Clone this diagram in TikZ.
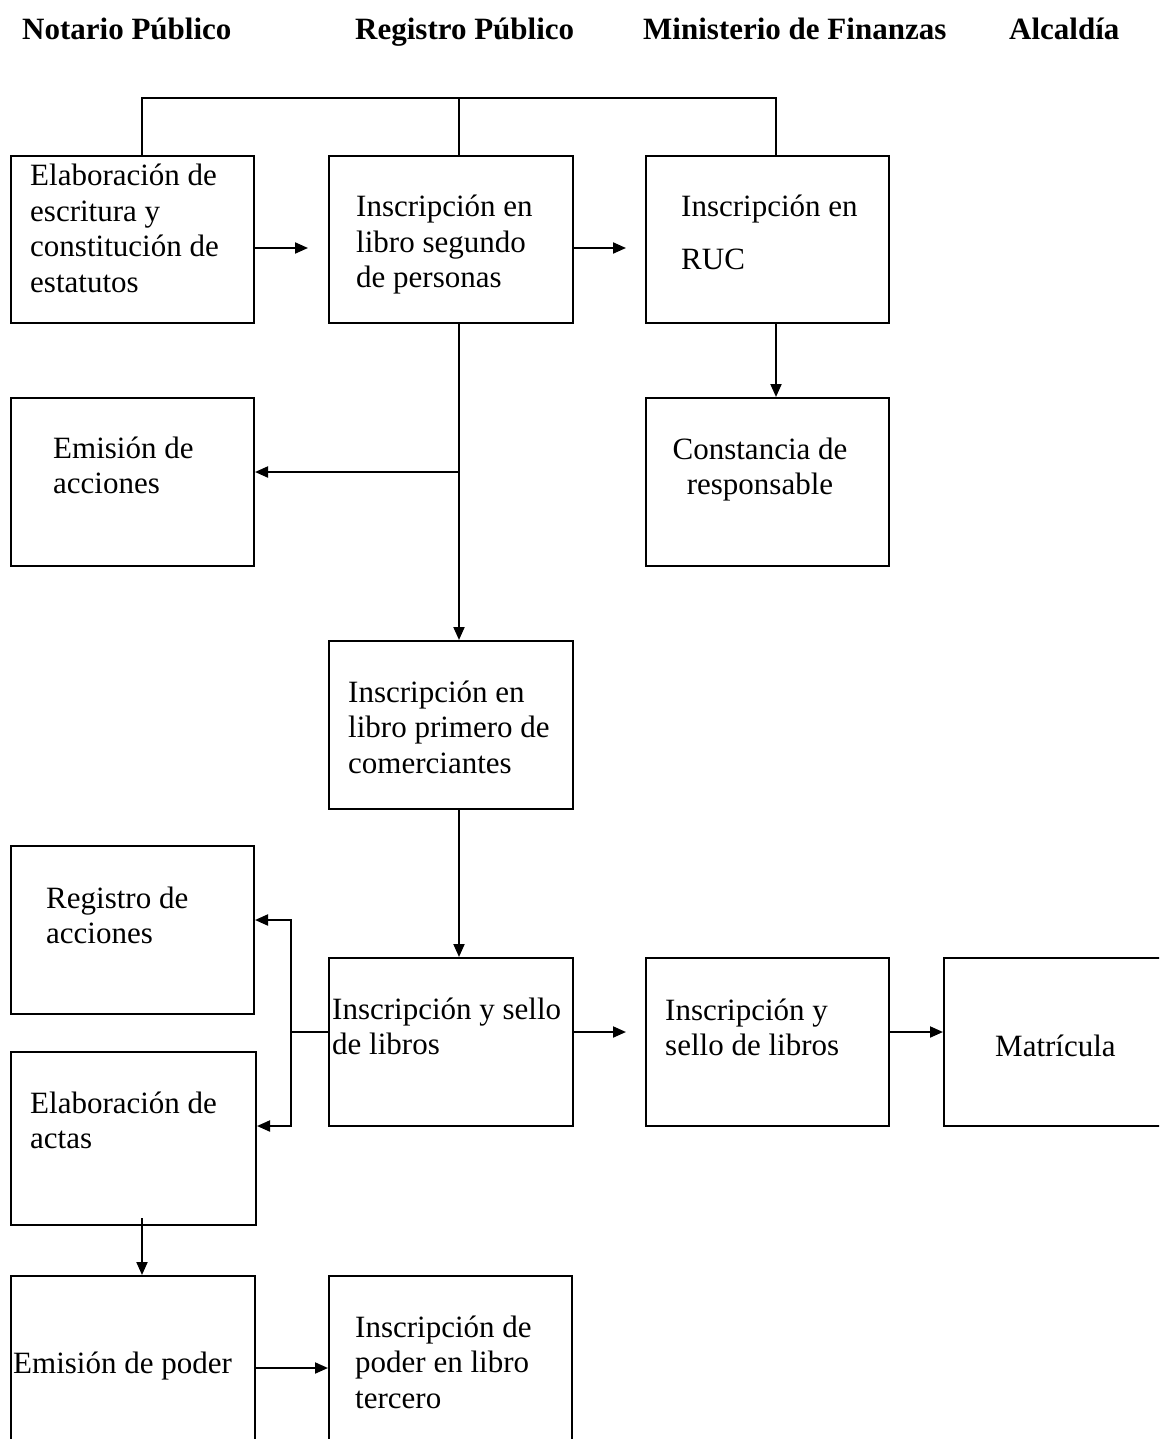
\documentclass[tikz,border=0pt]{standalone}
\usepackage{fontspec}
\setmainfont{Liberation Serif}
\usetikzlibrary{arrows.meta}
\newcommand{\lns}[1]{\begin{tabular}[t]{@{}l@{}}#1\end{tabular}}
\newcommand{\clns}[1]{\begin{tabular}[t]{@{}c@{}}#1\end{tabular}}
\begin{document}
\begin{tikzpicture}[x=1pt,y=-1pt,
  box/.style={draw, line width=2pt, inner sep=0pt, anchor=north west},
  lbl/.style={inner sep=0pt, anchor=base west, font=\fontsize{31}{35.5}\selectfont},
  clbl/.style={inner sep=0pt, anchor=base, font=\fontsize{31}{35.5}\selectfont},
  hdr/.style={inner sep=0pt, anchor=base west, font=\fontsize{31}{35.5}\selectfont\bfseries},
  wire/.style={line width=2pt},
  arr/.style={line width=2pt, -{Triangle[length=13pt,width=11pt]}}]
\useasboundingbox (0,0) rectangle (1159,1439);
\fill[white] (0,0) rectangle (1159,1439);
\clip (0,0) rectangle (1159,1439);

% headers
\node[hdr] (h1) at (22,40) {Notario Público};
\node[hdr] (h2) at (355,40) {Registro Público};
\node[hdr] (h3) at (643,40) {Ministerio de Finanzas};
\node[hdr] (h4) at (1009,40) {Alcaldía};

% boxes
\node[box, minimum width=243pt, minimum height=167pt] (b1) at (10,155) {};
\node[box, minimum width=244pt, minimum height=167pt] (b2) at (328,155) {};
\node[box, minimum width=243pt, minimum height=167pt] (b3) at (645,155) {};
\node[box, minimum width=243pt, minimum height=168pt] (b4) at (10,397) {};
\node[box, minimum width=243pt, minimum height=168pt] (b5) at (645,397) {};
\node[box, minimum width=244pt, minimum height=168pt] (b6) at (328,640) {};
\node[box, minimum width=244pt, minimum height=168pt] (b7) at (328,957) {};
\node[box, minimum width=243pt, minimum height=168pt] (b8) at (10,845) {};
\node[box, minimum width=245pt, minimum height=173pt] (b9) at (10,1051) {};
\node[box, minimum width=243pt, minimum height=168pt] (b10) at (645,957) {};
\node[box, minimum width=240pt, minimum height=168pt] (b11) at (943,957) {};
\node[box, minimum width=244pt, minimum height=200pt] (b12) at (10,1275) {};
\node[box, minimum width=243pt, minimum height=200pt] (b13) at (328,1275) {};

% texts
\node[lbl] (t1) at (30,186) {\lns{Elaboración de\\escritura y\\constitución de\\estatutos}};
\node[lbl] (t2) at (356,217) {\lns{Inscripción en\\libro segundo\\de personas}};
\node[lbl] (t3) at (681,217) {\lns{Inscripción en\\[17.5pt]RUC}};
\node[lbl] (t4) at (53,458) {\lns{Emisión de\\acciones}};
\node[clbl] (t5) at (760,459) {\clns{Constancia de\\responsable}};
\node[lbl] (t6) at (348,702) {\lns{Inscripción en\\libro primero de\\comerciantes}};
\node[lbl] (t7) at (332,1019) {\lns{Inscripción y sello\\de libros}};
\node[lbl] (t8) at (46,908) {\lns{Registro de\\acciones}};
\node[lbl] (t9) at (30,1113) {\lns{Elaboración de\\actas}};
\node[lbl] (t10) at (665,1020) {\lns{Inscripción y\\sello de libros}};
\node[lbl] (t11) at (995,1056) {Matrícula};
\node[lbl] (t12) at (13,1373) {Emisión de poder};
\node[lbl] (t13) at (355,1337) {\lns{Inscripción de\\poder en libro\\tercero}};

% junction coordinates
\coordinate (top1) at (142,98);
\coordinate (top2) at (459,98);
\coordinate (top3) at (776,98);
\coordinate (a12) at (308,248);
\coordinate (a23) at (626,248);
\coordinate (j4) at (459,472);
\coordinate (j7) at (291,1032);
\coordinate (j8) at (291,920);
\coordinate (j9) at (291,1126);
\coordinate (a710) at (626,1032);
\coordinate (s9) at (142,1218);
\coordinate (a1213) at (254,1368);

% connectors
\draw[wire] (b1.north -| top1) -- (top1) -- (top3) -- (b3.north -| top3);
\draw[wire] (top2) -- (b2.north -| top2);
\draw[arr] (b1.east |- a12) -- (a12);
\draw[arr] (b2.east |- a23) -- (a23);
\draw[arr] (b2.south -| top2) -- (b6.north -| top2);
\draw[arr] (j4) -- (b4.east |- j4);
\draw[arr] (b3.south -| top3) -- (b5.north -| top3);
\draw[arr] (b6.south -| top2) -- (b7.north -| top2);
\draw[wire] (b7.west |- j7) -- (j7);
\draw[arr] (j7) -- (j8) -- (b8.east |- j8);
\draw[arr] (j7) -- (j9) -- (b9.east |- j9);
\draw[arr] (b7.east |- a710) -- (a710);
\draw[arr] (b10.east |- a710) -- (b11.west |- a710);
\draw[arr] (s9) -- (b12.north -| s9);
\draw[arr] (b12.east |- a1213) -- (b13.west |- a1213);
\end{tikzpicture}
\end{document}
